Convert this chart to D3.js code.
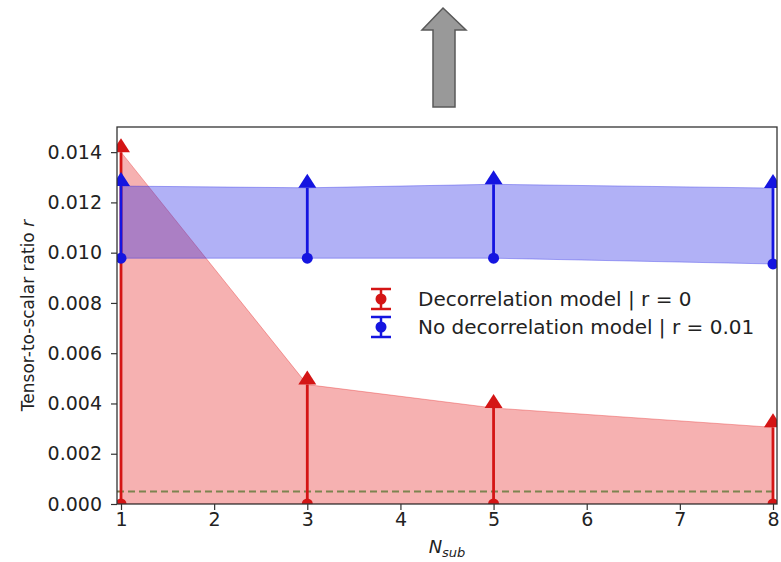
<!DOCTYPE html>
<html>
<head>
<meta charset="utf-8">
<script src="https://cdn.jsdelivr.net/npm/d3@7"></script>
<style>
  body { margin: 0; background: #fff; }
  svg { font-family: "DejaVu Sans", sans-serif; }
</style>
</head>
<body>
<div id="chart"></div>
<script>
// data
var nsub = [1, 3, 5, 8];
var decorLower = [0, 0, 0, 0];
var decorUpper = [0.0140, 0.00475, 0.00382, 0.00305];
var noDecorLower = [0.00978, 0.00978, 0.00978, 0.00955];
var noDecorUpper = [0.01265, 0.01258, 0.01272, 0.01257];
var refLine = 0.0005;
var xTicks = [1, 2, 3, 4, 5, 6, 7, 8];
var yTicks = [0, 0.002, 0.004, 0.006, 0.008, 0.010, 0.012, 0.014];
var legendLabels = ["Decorrelation model | r = 0", "No decorrelation model | r = 0.01"];

var W = 781, H = 562;
// plot box (note: "top" is reserved on window, so use pTop etc.)
var pLeft = 117, pRight = 777, pTop = 127, pBottom = 504;

var svg = d3.select("#chart").append("svg")
  .attr("width", W)
  .attr("height", H);

// grey arrow above the plot
svg.append("path")
  .attr("d", "M443,8 L466,30 L455,30 L455,107 L433,107 L433,30 L422,30 Z")
  .attr("fill", "#999")
  .attr("stroke", "#595959")
  .attr("stroke-width", 1.5)
  .attr("stroke-linejoin", "miter");

var x = d3.scaleLinear().domain([0.957, 8.043]).range([pLeft, pRight]);
var y = d3.scaleLinear().domain([0, 0.015]).range([pBottom, pTop]);

svg.append("defs").append("clipPath").attr("id", "clip")
  .append("rect").attr("x", pLeft).attr("y", pTop - 20)
  .attr("width", pRight - pLeft).attr("height", pBottom - pTop + 20);

var plot = svg.append("g").attr("clip-path", "url(#clip)");

function band(lo, hi) {
  return d3.area()
    .x(function(d, i) { return x(nsub[i]); })
    .y0(function(d, i) { return y(lo[i]); })
    .y1(function(d, i) { return y(hi[i]); })(nsub);
}

var series = [
  {lo: decorLower, hi: decorUpper, line: "#d41515", fill: "rgba(230,40,40,0.36)"},
  {lo: noDecorLower, hi: noDecorUpper, line: "#1515e0", fill: "rgba(40,40,230,0.36)"}
];

series.forEach(function(s) {
  plot.append("path")
    .attr("d", band(s.lo, s.hi))
    .attr("fill", s.fill)
    .attr("stroke", s.fill)
    .attr("stroke-width", 1);
});

// dashed reference line
plot.append("line")
  .attr("x1", pLeft).attr("x2", pRight)
  .attr("y1", y(refLine)).attr("y2", y(refLine))
  .attr("stroke", "#7d8450")
  .attr("stroke-width", 2)
  .attr("stroke-dasharray", "7,4");

// error bars: vertical line, circle at lower, base-anchored triangle at upper
series.forEach(function(s) {
  nsub.forEach(function(n, i) {
    var cx = x(n), y0 = y(s.lo[i]), y1 = y(s.hi[i]);
    plot.append("line")
      .attr("x1", cx).attr("x2", cx)
      .attr("y1", y0).attr("y2", y1)
      .attr("stroke", s.line)
      .attr("stroke-width", 2.8);
    plot.append("circle")
      .attr("cx", cx).attr("cy", y0).attr("r", 5.5)
      .attr("fill", s.line);
    plot.append("path")
      .attr("d", "M" + (cx - 9) + "," + y1 + " L" + cx + "," + (y1 - 14) + " L" + (cx + 9) + "," + y1 + " Z")
      .attr("fill", s.line);
  });
});

// axes
var xAxis = svg.append("g")
  .attr("transform", "translate(0," + pBottom + ")")
  .call(d3.axisBottom(x).tickValues(xTicks).tickFormat(d3.format("d")).tickSize(6).tickPadding(3));
var yAxis = svg.append("g")
  .attr("transform", "translate(" + pLeft + ",0)")
  .call(d3.axisLeft(y).tickValues(yTicks).tickFormat(d3.format(".3f")).tickSize(6).tickPadding(9));

[xAxis, yAxis].forEach(function(a) {
  a.select(".domain").remove();
  a.selectAll(".tick line").attr("stroke", "#333").attr("stroke-width", 1.2);
  a.selectAll(".tick text")
    .attr("fill", "#222")
    .style("font-size", "19px")
    .style("font-family", "DejaVu Sans, sans-serif");
});

// frame
svg.append("rect")
  .attr("x", pLeft).attr("y", pTop)
  .attr("width", pRight - pLeft).attr("height", pBottom - pTop)
  .attr("fill", "none")
  .attr("stroke", "#333")
  .attr("stroke-width", 1.3);

// axis labels
var ylab = svg.append("text")
  .attr("transform", "translate(34," + ((pTop + pBottom) / 2) + ") rotate(-90)")
  .attr("text-anchor", "middle")
  .style("font-size", "17px")
  .attr("fill", "#222");
ylab.append("tspan").text("Tensor-to-scalar ratio ");
ylab.append("tspan").style("font-style", "italic").text("r");

var xlab = svg.append("text")
  .attr("x", x(4.5))
  .attr("y", 553)
  .attr("text-anchor", "middle")
  .style("font-size", "18px")
  .style("font-style", "italic")
  .attr("fill", "#222");
xlab.append("tspan").text("N");
xlab.append("tspan").attr("dy", 4).style("font-size", "13px").text("sub");

// legend
var legend = svg.append("g");
legendLabels.forEach(function(label, i) {
  var s = series[i];
  var ly = 299 + i * 28, lx = 381;
  legend.append("line")
    .attr("x1", lx).attr("x2", lx).attr("y1", ly - 10).attr("y2", ly + 10)
    .attr("stroke", s.line).attr("stroke-width", 2.5);
  [ly - 10, ly + 10].forEach(function(cy) {
    legend.append("line")
      .attr("x1", lx - 10).attr("x2", lx + 10).attr("y1", cy).attr("y2", cy)
      .attr("stroke", s.line).attr("stroke-width", 2.5);
  });
  legend.append("circle").attr("cx", lx).attr("cy", ly).attr("r", 5.5).attr("fill", s.line);
  legend.append("text")
    .attr("x", 418).attr("y", ly + 7)
    .style("font-size", "20px")
    .attr("fill", "#222")
    .text(label);
});
</script>
</body>
</html>
